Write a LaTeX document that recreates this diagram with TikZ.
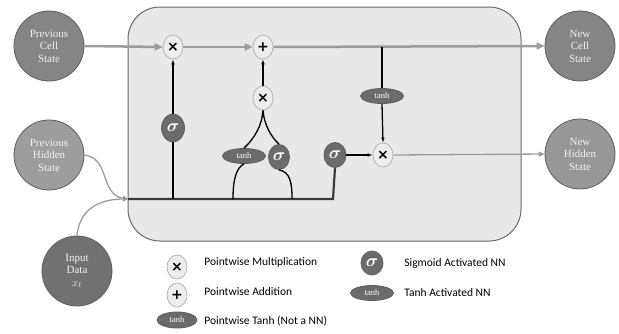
\documentclass[tikz,border=0pt]{standalone}
\usepackage{fontspec}
\usepackage{amsmath}
\setmainfont{Liberation Serif}
\newfontfamily\legendfont{Carlito}
\newfontfamily\opfont{DejaVu Sans}
\usetikzlibrary{arrows.meta,shapes.geometric}
\definecolor{boxfill}{HTML}{E8E8E8}
\definecolor{boxline}{HTML}{6A6A6A}
\definecolor{statefill}{HTML}{858585}
\definecolor{stateline}{HTML}{5E5E5E}
\definecolor{nnfill}{HTML}{6B6B6B}
\definecolor{opfill}{HTML}{EDEDED}
\definecolor{opline}{HTML}{B5B5B5}
\definecolor{celline}{HTML}{9C9C9C}
\definecolor{hidline}{HTML}{3A3A3A}
\begin{document}
\begin{tikzpicture}[x=1pt, y=-1pt, thick,
  state/.style={circle, draw=stateline, fill=statefill, minimum size=70pt, inner sep=0pt, align=center, text=white!90!gray, font=\fontsize{11}{12.5}\selectfont},
  pointop/.style={ellipse, draw=opline, fill=opfill, minimum width=20pt, minimum height=24pt, inner sep=0pt, font=\opfont\bfseries\fontsize{14}{14}\selectfont},
  sigmann/.style={ellipse, draw=stateline, fill=nnfill, minimum width=23pt, minimum height=28pt, inner sep=0pt, text=white, font=\LARGE},
  tanhnn/.style={ellipse, draw=stateline, fill=nnfill, minimum width=43pt, minimum height=15pt, inner sep=0pt, text=white, font=\fontsize{8.5}{9}\selectfont},
  cellflow/.style={draw=celline, line width=2.5pt, -{Triangle[length=8pt,width=7pt]}},
  hidflow/.style={draw=hidline, line width=2.2pt},
  gate/.style={draw=black, line width=1.3pt},
  legtext/.style={anchor=west, inner sep=0pt, font=\legendfont\fontsize{11.5}{13}\selectfont, text=black}]

\useasboundingbox (0,0) rectangle (619,333);
\draw[boxline, fill=boxfill, line width=1pt, rounded corners=32pt] (128,7) rectangle (521,241);

\node[state] (prevcell) at (49,46) {Previous\\Cell\\State};
\node[state, fill=statefill!80!white] (prevhid) at (49,155) {Previous\\Hidden\\State};
\node[state, fill=statefill!85!black] (input) at (77,271) {Input\\Data\\$x_t$};
\node[state] (newcell) at (580,46) {New\\Cell\\State};
\node[state, fill=statefill!85!white] (newhid) at (580,154) {New\\Hidden\\State};

\node[pointop] (forgetx) at (173,47) {×};
\node[pointop] (addp) at (263,47) {+};
\node[pointop] (inputx) at (263,98) {×};
\node[pointop] (outx) at (383,155) {×};
\node[sigmann] (forgets) at (173,128) {$\boldsymbol{\sigma}$};
\node[tanhnn] (inputt) at (244,156) {tanh};
\node[sigmann, minimum height=25pt, minimum width=21pt] (inputs) at (279,157) {$\boldsymbol{\sigma}$};
\node[sigmann, minimum height=25pt, minimum width=22pt] (outs) at (335,155) {$\boldsymbol{\sigma}$};
\node[tanhnn] (outt) at (382,96) {tanh};

\coordinate (join) at (128,199);
\coordinate (tap) at (382,47);

% cell state
\draw[cellflow] (prevcell.east) -- (forgetx.west);
\draw[cellflow] (forgetx.east) -- (addp.west);
\draw[cellflow] (addp.east) -- (newcell.west);

% hidden state and input
\draw[draw=celline, line width=1.3pt, -{Triangle[length=5pt,width=5pt]}] (prevhid.east) .. controls (110,158) and (100,195) .. (join);
\draw[draw=celline, line width=1.3pt, -{Triangle[length=5pt,width=5pt]}] (input.north) .. controls (80,205) and (105,199) .. (join);
\draw[hidflow] (join) -- (333,199) -- (outs.south);

% gates
\draw[gate] (173,199) -- (forgets.south);
\draw[gate, -{Latex[length=5pt]}] (forgets.north) -- (forgetx.south);
\draw[gate] (233,199) .. controls (233,180) and (236,168) .. (inputt.south);
\draw[gate] (292,199) .. controls (292,182) and (290,172) .. (inputs.south);
\draw[gate] (inputt.north) .. controls (255,138) and (262,125) .. (inputx.south);
\draw[gate] (inputs.north) .. controls (272,138) and (264,125) .. (inputx.south);
\draw[gate, -{Latex[length=4pt]}] (263,115) -- (inputx.south);
\draw[gate, -{Latex[length=5pt]}] (inputx.north) -- (addp.south);
\draw[gate] (tap) -- (outt.north);
\draw[gate, -{Latex[length=5pt]}] (outt.south) -- (outx.north);
\draw[gate, -{Latex[length=5pt]}] (outs.east) -- (outx.west);
\draw[draw=celline, line width=1.3pt, -{Triangle[length=6pt,width=5pt]}] (outx.east) -- (newhid.west);

% legend
\node[pointop] (legx) at (177,267) {×};
\node[pointop] (legp) at (177,295) {+};
\node[tanhnn, minimum width=40pt, minimum height=16pt] (legt) at (177,320) {tanh};
\node[sigmann, minimum width=22pt, minimum height=24pt] (legs) at (372,263) {$\boldsymbol{\sigma}$};
\node[tanhnn] (legnn) at (372,293) {tanh};
\node[legtext] at (204,262) {Pointwise Multiplication};
\node[legtext] at (204,292) {Pointwise Addition};
\node[legtext] at (204,321) {Pointwise Tanh (Not a NN)};
\node[legtext] at (404,263) {Sigmoid Activated NN};
\node[legtext] at (404,293) {Tanh Activated NN};
\end{tikzpicture}
\end{document}
